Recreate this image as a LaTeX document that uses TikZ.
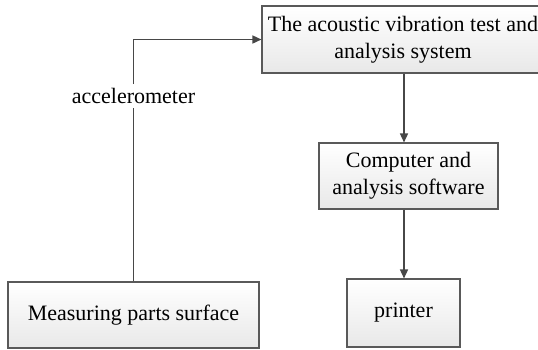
\documentclass[tikz,border=0pt]{standalone}
\usepackage{fontspec}
\setmainfont{Liberation Serif}
\usepackage{tikz}
\usetikzlibrary{arrows.meta, shadows}

\begin{document}
\begin{tikzpicture}[x=1pt, y=-1pt,
    box/.style = {draw=black!65, line width=1.1pt, top color=white, bottom color=black!9,
                  drop shadow={shadow xshift=1.3pt, shadow yshift=-1.3pt, opacity=0.35, fill=black!60},
                  align=center, font=\fontsize{22}{27}\selectfont, inner sep=0pt},
    link/.style = {draw=black!72, line width=1.5pt, -{Triangle[length=9pt, width=8pt]}}]
      \useasboundingbox (0,0) rectangle (538,349);
      \node [box, minimum width=282pt, minimum height=67pt] (sys) at (403, 39.5)
            {The acoustic vibration test and\\analysis system};
      \node [box, minimum width=179pt, minimum height=66pt] (pc) at (408.5, 176)
            {Computer and\\analysis software};
      \node [box, minimum width=113pt, minimum height=68pt] (prn) at (403.5, 313) {printer};
      \node [box, minimum width=251pt, minimum height=66pt] (meas) at (133.5, 315)
            {Measuring parts surface};
      \node [font=\fontsize{22}{27}\selectfont, inner sep=4pt] (acc) at (133.5, 96) {accelerometer};

      \draw [link, -] (meas.north) -- (acc.south);
      \draw [link] (acc.north) |- (sys.west);
      \draw [link] (sys.south -| 404,0) -- (pc.north -| 404,0);
      \draw [link] (pc.south -| 404,0) -- (prn.north -| 404,0);
\end{tikzpicture}
\end{document}
